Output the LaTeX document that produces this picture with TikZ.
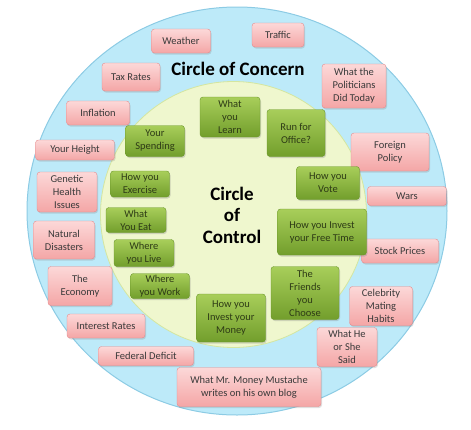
\documentclass[tikz,border=0pt]{standalone}
\usepackage{fontspec}
\setmainfont{Carlito}
\usetikzlibrary{shadows}

\definecolor{concernfill}{HTML}{BDEAF9}
\definecolor{concernedge}{HTML}{8CCBE4}
\definecolor{controlfill}{HTML}{EFF7CE}
\definecolor{controledge}{HTML}{D4E6A0}
\definecolor{pinktop}{HTML}{FCD8D8}
\definecolor{pinkbot}{HTML}{F4A6A6}
\definecolor{pinkedge}{HTML}{E48A8C}
\definecolor{greentop}{HTML}{A8CE5A}
\definecolor{greenbot}{HTML}{729E2C}
\definecolor{greenedge}{HTML}{6A962A}
\definecolor{worrytext}{HTML}{3A3A3A}
\definecolor{acttext}{HTML}{2E3B16}

\begin{document}
\begin{tikzpicture}[
  x=1pt, y=-1pt,
  font=\fontsize{10.5}{13}\selectfont,
  worry/.style={draw=pinkedge, rounded corners=3pt, top color=pinktop, bottom color=pinkbot,
    align=center, inner sep=1pt, text=worrytext,
    drop shadow={shadow xshift=1pt, shadow yshift=-1.5pt, opacity=.25}},
  act/.style={draw=greenedge, rounded corners=3pt, top color=greentop, bottom color=greenbot,
    align=center, inner sep=1pt, text=acttext,
    drop shadow={shadow xshift=1pt, shadow yshift=-1.5pt, opacity=.3}},
  title/.style={font=\fontsize{19}{21.5}\selectfont\bfseries, align=center, text=black}
]
\useasboundingbox (0,0) rectangle (471,429);

% the two circles
\fill[concernfill, draw=concernedge, line width=1pt] (237,211) ellipse [x radius=210, y radius=204];
\fill[controlfill, draw=controledge, line width=.8pt] (233.5,214.5) circle [radius=133];

\node[title] (concern) at (238,69) {Circle of Concern};
\node[title] (control) at (232,215) {Circle\\of\\Control};

% circle of concern
\node[worry, minimum width=59, minimum height=24] (weather) at (181,41) {Weather};
\node[worry, minimum width=52, minimum height=24] (traffic) at (278,35) {Traffic};
\node[worry, minimum width=58, minimum height=28] (tax) at (131,77) {Tax Rates};
\node[worry, minimum width=64, minimum height=44] (politicians) at (354,86) {What the\\Politicians\\Did Today};
\node[worry, minimum width=63, minimum height=24] (inflation) at (98,113) {Inflation};
\node[worry, minimum width=79, minimum height=20] (height) at (75,150) {Your Height};
\node[worry, minimum width=78, minimum height=38] (foreign) at (390,152) {Foreign\\Policy};
\node[worry, minimum width=79, minimum height=19] (wars) at (407,196) {Wars};
\node[worry, minimum width=60, minimum height=40] (genetic) at (67,192) {Genetic\\Health\\Issues};
\node[worry, minimum width=61, minimum height=38] (disasters) at (64,240) {Natural\\Disasters};
\node[worry, minimum width=77, minimum height=24] (stock) at (400,251) {Stock Prices};
\node[worry, minimum width=64, minimum height=39] (economy) at (80,286) {The\\Economy};
\node[worry, minimum width=63, minimum height=39] (celebrity) at (381,306) {Celebrity\\Mating\\Habits};
\node[worry, minimum width=78, minimum height=24] (interest) at (106,326) {Interest Rates};
\node[worry, minimum width=60, minimum height=39] (said) at (347,347) {What He\\or She\\Said};
\node[worry, minimum width=95, minimum height=19] (deficit) at (146,356) {Federal Deficit};
\node[worry, minimum width=144, minimum height=39] (blog) at (249,387) {What Mr. Money Mustache\\writes on his own blog};

% circle of control
\node[act, minimum width=60, minimum height=40] (learn) at (230,117) {What\\you\\Learn};
\node[act, minimum width=58, minimum height=47] (office) at (296,133) {Run for\\Office?};
\node[act, minimum width=59, minimum height=31] (spending) at (155,141) {Your\\Spending};
\node[act, minimum width=59, minimum height=26] (exercise) at (140,184) {How you\\Exercise};
\node[act, minimum width=63, minimum height=33] (vote) at (328,183) {How you\\Vote};
\node[act, minimum width=60, minimum height=25] (eat) at (136,220) {What\\You Eat};
\node[act, minimum width=89, minimum height=46] (freetime) at (322,232) {How you Invest\\your Free Time};
\node[act, minimum width=60, minimum height=27] (live) at (144,253) {Where\\you Live};
\node[act, minimum width=59, minimum height=25] (work) at (160,286) {Where\\you Work};
\node[act, minimum width=68, minimum height=53] (friends) at (305,293) {The\\Friends\\you\\Choose};
\node[act, minimum width=69, minimum height=48] (money) at (231,318) {How you\\Invest your\\Money};
\end{tikzpicture}
\end{document}
